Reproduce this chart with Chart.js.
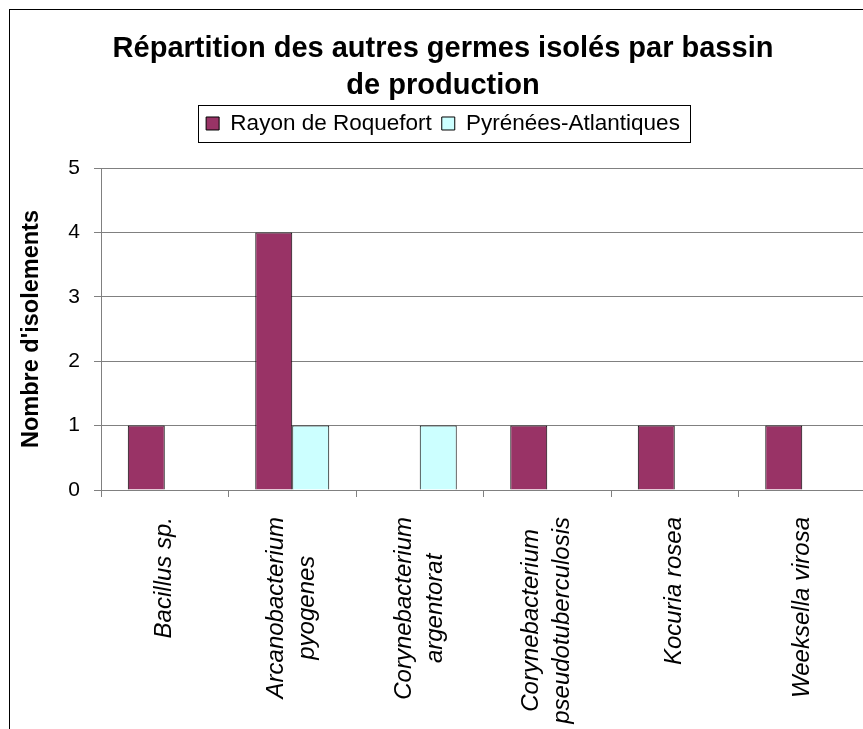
<!DOCTYPE html>
<html>
<head>
<meta charset="utf-8">
<title>Répartition des autres germes isolés par bassin de production</title>
<script src="https://cdn.jsdelivr.net/npm/chart.js@4.4.1/dist/chart.umd.min.js"></script>
<style>
html, body { margin: 0; padding: 0; background: #fff; overflow: hidden; }
#box { position: absolute; left: 9px; top: 9px; border: 1px solid #000; width: 866px; height: 800px; }
canvas { display: block; }
</style>
</head>
<body>
<div id="box"><canvas id="myChart" width="866" height="800"></canvas></div>
<script>
// donnees
var categories = [
    ['Bacillus sp.'],
    ['Arcanobacterium', 'pyogenes'],
    ['Corynebacterium', 'argentorat'],
    ['Corynebacterium', 'pseudotuberculosis'],
    ['Kocuria rosea'],
    ['Weeksella virosa']
];
var rayonRoquefort = [1, 4, 0, 1, 1, 1];
var pyreneesAtlantiques = [0, 1, 1, 0, 0, 0];
var yTicks = [0, 1, 2, 3, 4, 5];

var FONT = "'Liberation Sans', Arial, sans-serif";

// cadre autour de la legende
var legendBorder = {
    id: 'legendBorder',
    afterDraw: function(chart) {
        var boxes = chart.legend.legendHitBoxes;
        if (!boxes || !boxes.length) return;
        var left = boxes[0].left - 8;
        var last = boxes[boxes.length - 1];
        var right = last.left + last.width + 10;
        var cy = boxes[0].top + boxes[0].height / 2;
        var ctx = chart.ctx;
        ctx.save();
        ctx.strokeStyle = '#000';
        ctx.lineWidth = 1;
        ctx.strokeRect(Math.round(left) + 0.5, Math.round(cy - 18.5) + 0.5, Math.round(right - left), 37);
        ctx.restore();
    }
};

// etiquettes des categories (italique, verticales, lignes centrees)
var xLabels = {
    id: 'xLabels',
    afterDraw: function(chart) {
        var ctx = chart.ctx;
        var xs = chart.scales.x;
        ctx.save();
        ctx.font = 'italic 24px ' + FONT;
        ctx.fillStyle = '#000';
        ctx.textAlign = 'center';
        ctx.textBaseline = 'middle';
        categories.forEach(function(lines, i) {
            var x = xs.getPixelForValue(i);
            var w = Math.max.apply(null, lines.map(function(s) { return ctx.measureText(s).width; }));
            ctx.save();
            ctx.translate(x, xs.top + 27);
            ctx.rotate(-Math.PI / 2);
            lines.forEach(function(s, j) {
                ctx.fillText(s, -w / 2, (j - (lines.length - 1) / 2) * 31);
            });
            ctx.restore();
        });
        ctx.restore();
    }
};

var ctx = document.getElementById('myChart').getContext('2d');
var myChart = new Chart(ctx, {
    type: 'bar',
    data: {
        labels: categories.map(function(l) { return l.join(' '); }),
        datasets: [{
            label: 'Rayon de Roquefort',
            data: rayonRoquefort,
            backgroundColor: '#993366',
            borderColor: '#000000',
            borderWidth: 1
        }, {
            label: 'Pyrénées-Atlantiques',
            data: pyreneesAtlantiques,
            backgroundColor: '#CCFFFF',
            borderColor: '#000000',
            borderWidth: 1
        }]
    },
    options: {
        responsive: false,
        animation: false,
        categoryPercentage: 0.58,
        barPercentage: 1.0,
        layout: { padding: { left: 10, right: 10, top: 0, bottom: 0 } },
        plugins: {
            tooltip: { enabled: false },
            title: {
                display: true,
                text: ['Répartition des autres germes isolés par bassin', 'de production'],
                color: '#000',
                font: { family: FONT, size: 29, weight: 'bold', lineHeight: 1.28 },
                padding: { top: 20, bottom: -2 }
            },
            // espace vide sous la legende
            subtitle: {
                display: true,
                text: '',
                weight: 500,
                font: { family: FONT, size: 23.3, lineHeight: 1 },
                padding: 0
            },
            legend: {
                display: true,
                labels: {
                    color: '#000',
                    font: { family: FONT, size: 22.5 },
                    boxWidth: 13,
                    boxHeight: 13,
                    padding: 10
                }
            }
        },
        scales: {
            x: {
                grid: { drawOnChartArea: false, drawTicks: true, tickLength: 7, color: '#808080', offset: true },
                border: { color: '#808080' },
                ticks: { display: false },
                afterFit: function(scale) { scale.height = 320; }
            },
            y: {
                min: yTicks[0],
                max: yTicks[yTicks.length - 1],
                ticks: { stepSize: 1, color: '#000', padding: 14, font: { family: FONT, size: 21 } },
                grid: { color: '#808080', tickLength: 7 },
                border: { color: '#808080' },
                title: {
                    display: true,
                    text: "Nombre d'isolements",
                    color: '#000',
                    font: { family: FONT, size: 23.5, weight: 'bold' },
                    padding: { top: -3, bottom: 0 }
                },
                afterFit: function(scale) { scale.width = 81; }
            }
        }
    },
    plugins: [legendBorder, xLabels]
});
</script>
</body>
</html>
